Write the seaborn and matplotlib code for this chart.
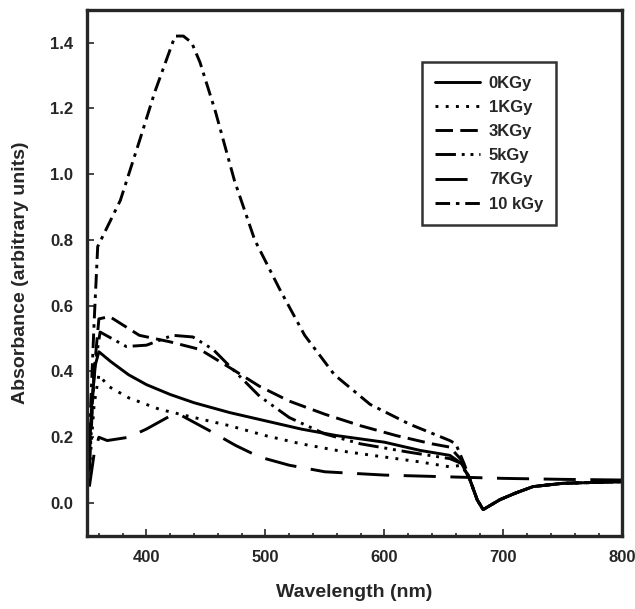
import numpy as np
import pandas as pd
import seaborn as sns
import matplotlib.pyplot as plt
from matplotlib.ticker import MultipleLocator

sns.set_style("ticks")
plt.rcParams['font.family'] = ['Liberation Sans', 'DejaVu Sans']
plt.rcParams['font.weight'] = 'bold'

# shared tail after the spectra converge (dip near 683 nm)
tail_wl = [672, 678, 683, 690, 697, 710, 725, 750, 800]
tail_abs = [0.07, 0.01, -0.02, -0.005, 0.01, 0.03, 0.05, 0.06, 0.065]

wl_0 = [351, 354, 357, 360, 370, 385, 400, 420, 440, 470, 500, 530, 560, 600, 630, 655, 665] + tail_wl
abs_0 = [0.08, 0.30, 0.42, 0.46, 0.43, 0.39, 0.36, 0.33, 0.305, 0.275, 0.25, 0.225, 0.205, 0.185, 0.16, 0.145, 0.12] + tail_abs

wl_1 = [352, 356, 360, 368, 385, 411, 440, 470, 500, 530, 560, 600, 630, 655, 665] + tail_wl
abs_1 = [0.10, 0.30, 0.39, 0.355, 0.32, 0.285, 0.26, 0.235, 0.205, 0.18, 0.16, 0.14, 0.125, 0.11, 0.115] + tail_abs

wl_3 = [352, 356, 360, 369, 394, 420, 445, 473, 495, 520, 550, 580, 610, 640, 655, 665] + tail_wl
abs_3 = [0.15, 0.40, 0.56, 0.567, 0.51, 0.49, 0.467, 0.405, 0.355, 0.31, 0.27, 0.235, 0.205, 0.18, 0.17, 0.13] + tail_abs

wl_5 = [352, 356, 361, 383, 400, 422, 439, 456, 473, 495, 520, 550, 580, 620, 655, 665] + tail_wl
abs_5 = [0.10, 0.40, 0.52, 0.476, 0.48, 0.51, 0.505, 0.467, 0.405, 0.325, 0.26, 0.21, 0.18, 0.155, 0.135, 0.12] + tail_abs

wl_7 = [352, 356, 360, 367, 385, 400, 420, 430, 453, 475, 495, 520, 550, 600, 650, 700, 750, 800]
abs_7 = [0.05, 0.15, 0.20, 0.19, 0.20, 0.225, 0.265, 0.265, 0.22, 0.175, 0.14, 0.115, 0.095, 0.085, 0.08, 0.075, 0.072, 0.07]

wl_10 = [352, 356, 359, 378, 394, 407, 418, 424, 431, 438, 445, 458, 474, 491, 512, 533, 558, 588, 621, 655, 660, 667] + tail_wl
abs_10 = [0.20, 0.55, 0.78, 0.92, 1.10, 1.25, 1.36, 1.42, 1.42, 1.40, 1.34, 1.19, 0.98, 0.80, 0.65, 0.51, 0.39, 0.30, 0.24, 0.19, 0.18, 0.12] + tail_abs

labels = ["0KGy", "1KGy", "3KGy", "5kGy", "7KGy", "10 kGy"]
series = [(wl_0, abs_0), (wl_1, abs_1), (wl_3, abs_3), (wl_5, abs_5), (wl_7, abs_7), (wl_10, abs_10)]
dash_styles = [None, (1, 2.5), (6, 2.5), (7, 2, 1, 2, 1, 2), (11, 5), (5, 2, 1.2, 2)]

fig = plt.figure(figsize=(6.35, 6.09), dpi=100)
ax = fig.add_axes([0.137, 0.12, 0.843, 0.864])

for (wl, ab), lab, ds in zip(series, labels, dash_styles):
    df = pd.DataFrame({"wl": wl, "abs": ab})
    sns.lineplot(data=df, x="wl", y="abs", ax=ax, color="black", lw=2.1, label=lab)
    line = ax.lines[-1]
    if ds is not None:
        line.set_dashes(ds)

ax.set_xlim(350, 800)
ax.set_ylim(-0.1, 1.5)
ax.xaxis.set_major_locator(MultipleLocator(100))
ax.xaxis.set_minor_locator(MultipleLocator(20))
ax.yaxis.set_major_locator(MultipleLocator(0.2))
ax.tick_params(which="major", direction="in", length=5, width=1.2, labelsize=12, pad=10)
ax.tick_params(which="minor", direction="in", length=2.5, width=1.2)
ax.yaxis.set_major_formatter(plt.FormatStrFormatter("%.1f"))
for s in ax.spines.values():
    s.set_linewidth(2.4)

ax.set_xlabel("Wavelength (nm)", fontsize=14, fontweight="bold", labelpad=14)
ax.set_ylabel("Absorbance (arbitrary units)", fontsize=14, fontweight="bold", labelpad=15)

leg = ax.legend(loc="upper left", bbox_to_anchor=(0.626, 0.90), fontsize=12, frameon=True,
                fancybox=False, edgecolor="black", handlelength=2.7, labelspacing=0.55,
                borderpad=0.8, handletextpad=0.5, borderaxespad=0)
leg.get_frame().set_linewidth(1.8)
for t in leg.get_texts():
    t.set_fontweight("bold")

fig.savefig("out.png", dpi=100)
